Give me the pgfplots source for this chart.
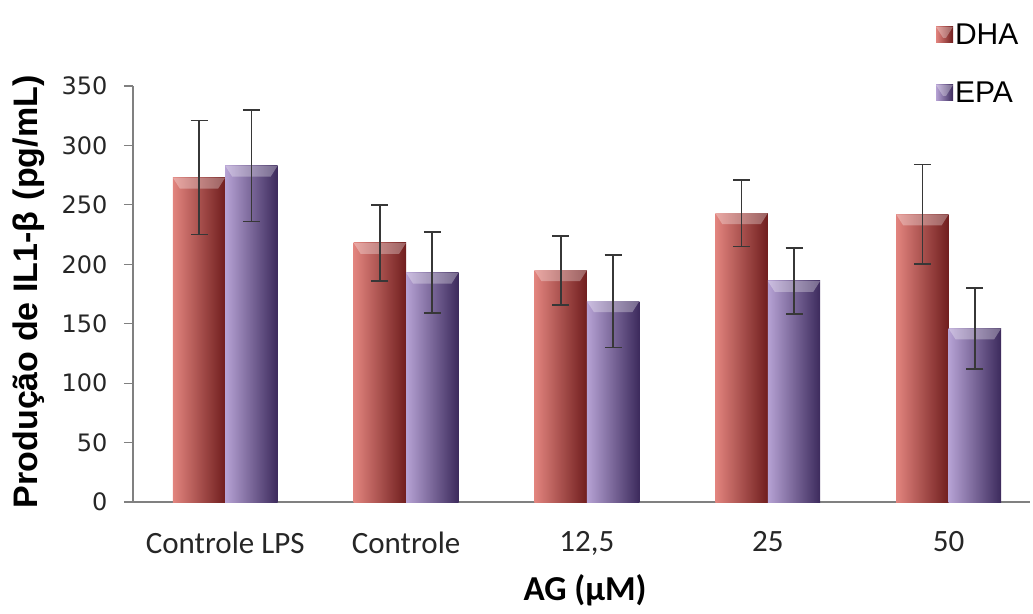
\documentclass[border=0pt]{standalone}
\usepackage{fontspec}
\setmainfont{Liberation Sans}
\newfontfamily\calib{Carlito}
\newfontfamily\dejavu{DejaVu Sans}
\usepackage{pgfplots}
\usepackage{pgfplotstable}
\pgfplotsset{compat=1.18}
\definecolor{dhaL}{RGB}{226,132,126}
\definecolor{dhaM}{RGB}{188,64,58}
\definecolor{dhaR}{RGB}{112,30,30}
\definecolor{epaL}{RGB}{182,162,212}
\definecolor{epaM}{RGB}{130,102,172}
\definecolor{epaR}{RGB}{60,42,92}
\definecolor{errc}{RGB}{55,55,55}
\pgfplotstableread{
x dha dhaerr epa epaerr
0 273 48 283 47
1 218 32 193 34
2 195 29 169 39
3 243 28 186 28
4 242 42 146 34
}\data
\newcommand{\bevelcode}{%
  \pgfsetfillcolor{white}\pgfsetfillopacity{0.3}%
  \pgfpathmoveto{\pgfpointanchor{path picture bounding box}{north west}}%
  \pgfpathlineto{\pgfpointanchor{path picture bounding box}{north east}}%
  \pgfpathlineto{\pgfpointadd{\pgfpointanchor{path picture bounding box}{north east}}{\pgfpoint{-7pt}{-11pt}}}%
  \pgfpathlineto{\pgfpointadd{\pgfpointanchor{path picture bounding box}{north west}}{\pgfpoint{7pt}{-11pt}}}%
  \pgfpathclose
  \pgfusepath{fill}%
}
\tikzset{bevel/.style={path picture={\bevelcode}}}
\pgfplotsset{
  dhabar/.style={ybar, bar shift=-0.145, draw=none, left color=dhaL, middle color=dhaM, right color=dhaR, bevel},
  epabar/.style={ybar, bar shift=0.145, draw=none, left color=epaL, middle color=epaM, right color=epaR, bevel},
  errs/.style={forget plot, draw=none, mark=none,
    error bars/.cd, y dir=both, y explicit,
    error bar style={draw=errc, line width=1.8pt},
    error mark options={rotate=90, draw=errc, line width=1.8pt, mark size=8.5pt}},
}
\begin{document}
\begin{tikzpicture}
\useasboundingbox (-133pt,-111pt) rectangle (900pt,502pt);
\begin{axis}[
  scale only axis,
  width=897pt, height=416pt,
  xmin=-0.51, xmax=4.45,
  ymin=0, ymax=350,
  ytick={0,50,...,350},
  xtick={0,1,2,3,4},
  xticklabels={Controle LPS, Controle, {12,5}, 25, 50},
  axis x line*=bottom,
  axis y line*=left,
  axis line style={draw=black!50, line width=1.2pt},
  x axis line style={-}, y axis line style={-},
  tick align=outside,
  major tick length=9pt,
  ytick style={draw=black!50, line width=1.2pt},
  xtick style={draw=none},
  yticklabel style={font=\dejavu\fontsize{24}{26}\selectfont, xshift=-13pt, text=black!85},
  xticklabel style={font=\calib\fontsize{31}{33}\selectfont, yshift=-17pt, text=black!85},
  /pgf/number format/assume math mode=true,
  bar width=0.29,
  xlabel={AG (µM)},
  xlabel style={font=\calib\bfseries\fontsize{35}{37}\selectfont, at={(axis description cs:0.504,-0.212)}, anchor=center},
  ylabel={Produção de IL1-β\,\,(pg/mL)},
  ylabel style={font=\bfseries\fontsize{34}{36}\selectfont, at={(axis description cs:-0.116,0.505)}, anchor=center, rotate=0},
  legend style={draw=none, fill=none, at={(axis description cs:0.895,1.155)}, anchor=north west,
    font=\fontsize{30}{32}\selectfont, row sep=32pt, inner sep=0pt,
    /tikz/every even column/.append style={column sep=5pt}},
  legend cell align=left,
  legend image code/.code={\path[#1, draw=none] (0pt,-8pt) rectangle (17pt,8pt);},
  clip=false,
]
\addplot[dhabar] table[x=x, y=dha, restrict x to domain=0:0] \data;
\addlegendentry{DHA}
\addplot[epabar] table[x=x, y=epa, restrict x to domain=0:0] \data;
\addlegendentry{EPA}
\pgfplotsinvokeforeach{1,2,3,4}{
  \addplot[dhabar, forget plot] table[x=x, y=dha, restrict x to domain=#1:#1] \data;
  \addplot[epabar, forget plot] table[x=x, y=epa, restrict x to domain=#1:#1] \data;
}
\addplot[errs] table[x expr=\thisrow{x}-0.145, y=dha, y error=dhaerr] \data;
\addplot[errs] table[x expr=\thisrow{x}+0.145, y=epa, y error=epaerr] \data;
\end{axis}
\end{tikzpicture}
\end{document}
